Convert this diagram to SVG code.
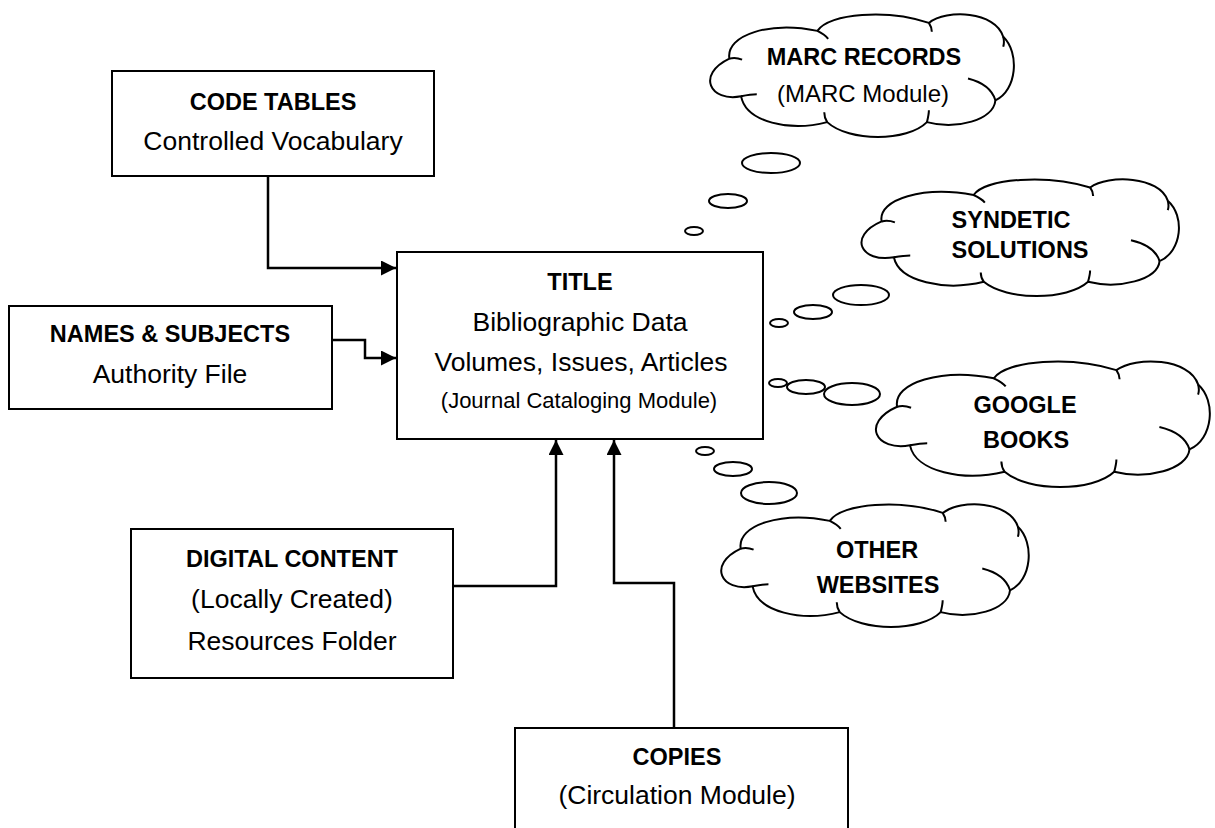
<svg xmlns="http://www.w3.org/2000/svg" width="1215" height="828" viewBox="0 0 1215 828">
<style>
  .box { fill: #ffffff; stroke: #000000; stroke-width: 2; }
  .cloud { fill: #ffffff; stroke: #000000; stroke-width: 2; }
  .inner { fill: none; stroke: #000000; stroke-width: 2; }
  .bub { fill: #ffffff; stroke: #000000; stroke-width: 2; }
  .conn { fill: none; stroke: #000000; stroke-width: 2.5; }
  text { font-family: "Liberation Sans", Arial, sans-serif; fill: #000000; text-anchor: middle; }
  .b { font-weight: bold; font-size: 23.5px; }
  .r { font-size: 26.5px; }
  .s { font-size: 22px; }
  .m { font-size: 24px; }
</style>
<defs>
  <marker id="arrow" markerUnits="userSpaceOnUse" markerWidth="16" markerHeight="16" refX="15" refY="7.5" orient="auto">
    <path d="M0,0 L15,7.5 L0,15 Z" fill="#000000"/>
  </marker>
  <g id="cloudShape">
    <path class="cloud" vector-effect="non-scaling-stroke" d="M40,84 C8,90 -6,62 28,46 C24,22 70,8 118,18 C130,0 190,-4 232,10 C250,-4 300,-2 308,24 C325,40 322,78 300,88 C298,108 260,118 230,110 C210,130 150,130 128,110 C90,120 45,110 40,84 Z"/>
    <path class="inner" vector-effect="non-scaling-stroke" d="M28,46 C32,45 36,45 41,47 M40,84 C45,83 50,82 56,82 M118,18 C122,20 126,22 129,26 M232,10 C234,13 235,16 235,19 M308,24 C309,28 309,31 308,34 M300,88 C297,78 288,70 272,66 M230,110 C231,106 232,102 232,98 M128,110 C126,107 125,104 125,100"/>
  </g>
</defs>

<g id="connectors">
  <path class="conn" d="M268,176 V268 H396" marker-end="url(#arrow)"/>
  <path class="conn" d="M332,340 H365 V358 H396" marker-end="url(#arrow)"/>
  <path class="conn" d="M453,586 H556 V440" marker-end="url(#arrow)"/>
  <path class="conn" d="M674,728 V583 H614 V440" marker-end="url(#arrow)"/>
</g>

<g id="code-tables">
  <rect class="box" x="112" y="71" width="322" height="105"/>
  <text class="b" x="273" y="110">CODE TABLES</text>
  <text class="r" x="273" y="150">Controlled Vocabulary</text>
</g>

<g id="names-subjects">
  <rect class="box" x="9" y="306" width="323" height="103"/>
  <text class="b" x="170" y="342">NAMES &amp; SUBJECTS</text>
  <text class="r" x="170" y="383">Authority File</text>
</g>

<g id="title">
  <rect class="box" x="397" y="252" width="366" height="187"/>
  <text class="b" x="580" y="290">TITLE</text>
  <text class="r" x="580" y="331">Bibliographic Data</text>
  <text class="r" x="581" y="371">Volumes, Issues, Articles</text>
  <text class="s" x="579" y="408">(Journal Cataloging Module)</text>
</g>

<g id="digital-content">
  <rect class="box" x="131" y="529" width="322" height="149"/>
  <text class="b" x="292" y="567">DIGITAL CONTENT</text>
  <text class="r" x="292" y="608">(Locally Created)</text>
  <text class="r" x="292" y="650">Resources Folder</text>
</g>

<g id="copies">
  <rect class="box" x="515" y="728" width="333" height="120"/>
  <text class="b" x="677" y="765">COPIES</text>
  <text class="r" x="677" y="804">(Circulation Module)</text>
</g>

<g id="marc-records">
  <ellipse class="bub" cx="694" cy="231" rx="9" ry="4"/>
  <ellipse class="bub" cx="728" cy="201" rx="19" ry="7"/>
  <ellipse class="bub" cx="771" cy="163" rx="29" ry="10"/>
  <use href="#cloudShape" transform="translate(702,13) scale(0.978,0.992)"/>
  <text class="b" x="864" y="65">MARC RECORDS</text>
  <text class="m" x="863" y="102">(MARC Module)</text>
</g>

<g id="syndetic-solutions">
  <ellipse class="bub" cx="779" cy="323" rx="9" ry="4"/>
  <ellipse class="bub" cx="813" cy="312" rx="19" ry="7"/>
  <ellipse class="bub" cx="861" cy="295" rx="28" ry="10"/>
  <use href="#cloudShape" transform="translate(853,178) scale(1.022,0.944)"/>
  <text class="b" x="1011" y="228">SYNDETIC</text>
  <text class="b" x="1020" y="258">SOLUTIONS</text>
</g>

<g id="google-books">
  <ellipse class="bub" cx="778" cy="383" rx="9" ry="4"/>
  <ellipse class="bub" cx="806" cy="387" rx="19" ry="7"/>
  <ellipse class="bub" cx="852" cy="394" rx="28" ry="11"/>
  <use href="#cloudShape" transform="translate(867,360) scale(1.075,1.016)"/>
  <text class="b" x="1025" y="413">GOOGLE</text>
  <text class="b" x="1026" y="448">BOOKS</text>
</g>

<g id="other-websites">
  <ellipse class="bub" cx="705" cy="451" rx="9" ry="4"/>
  <ellipse class="bub" cx="733" cy="469" rx="19" ry="7"/>
  <ellipse class="bub" cx="769" cy="493" rx="28" ry="11"/>
  <use href="#cloudShape" transform="translate(713,503) scale(0.99,0.992)"/>
  <text class="b" x="877" y="558">OTHER</text>
  <text class="b" x="878" y="593">WEBSITES</text>
</g>
</svg>
